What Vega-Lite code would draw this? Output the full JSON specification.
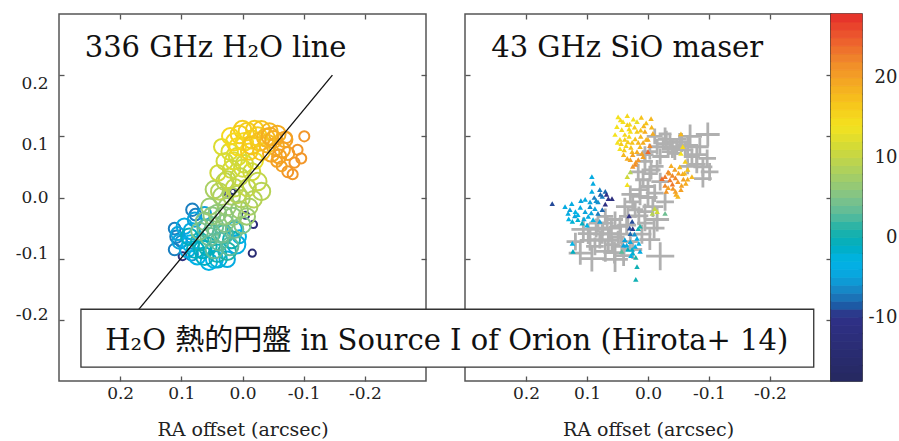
{
  "$schema": "https://vega.github.io/schema/vega-lite/v6.json",
  "background": "white",
  "padding": {"left": 14, "top": 12, "right": 2, "bottom": 0},
  "config": {
    "font": "DejaVu Serif, Noto Sans CJK JP, serif",
    "view": {"stroke": "#555", "strokeWidth": 1.5},
    "axis": {
      "grid": false, "domain": false,
      "tickColor": "#555", "tickWidth": 1.3, "tickSize": -5,
      "labelFont": "DejaVu Serif, serif", "labelFontSize": 17, "labelColor": "#222",
      "titleFont": "DejaVu Serif, serif", "titleFontSize": 19, "titleFontWeight": "normal", "titleColor": "#222"
    },
    "text": {"font": "DejaVu Serif, Noto Sans CJK JP, serif"}
  },
  "datasets": {
    "h2o": [
      {"x": 0.098, "y": -0.096, "v": -12, "flux": 0.18},
      {"x": -0.005, "y": -0.029, "v": -13, "flux": 0.15},
      {"x": -0.018, "y": -0.044, "v": -13, "flux": 0.15},
      {"x": -0.016, "y": -0.091, "v": -14, "flux": 0.15},
      {"x": 0.025, "y": 0.007, "v": -12, "flux": 0.08},
      {"x": 0.016, "y": 0.010, "v": -12, "flux": 0.08},
      {"x": 0.082, "y": -0.020, "v": -7, "flux": 0.45},
      {"x": 0.077, "y": -0.028, "v": -7, "flux": 0.4},
      {"x": 0.111, "y": -0.051, "v": -7, "flux": 0.4},
      {"x": 0.108, "y": -0.064, "v": -7, "flux": 0.45},
      {"x": 0.100, "y": -0.072, "v": -6, "flux": 0.4},
      {"x": 0.111, "y": -0.085, "v": -7, "flux": 0.4},
      {"x": 0.083, "y": -0.093, "v": -6, "flux": 0.45},
      {"x": 0.095, "y": -0.047, "v": -4, "flux": 0.7},
      {"x": 0.083, "y": -0.055, "v": -4, "flux": 0.8},
      {"x": 0.103, "y": -0.072, "v": -5, "flux": 0.6},
      {"x": 0.090, "y": -0.085, "v": -4, "flux": 0.7},
      {"x": 0.074, "y": -0.096, "v": -3, "flux": 0.8},
      {"x": 0.046, "y": -0.101, "v": -3, "flux": 0.85},
      {"x": 0.010, "y": -0.077, "v": -4, "flux": 0.95},
      {"x": 0.013, "y": -0.051, "v": -4, "flux": 0.6},
      {"x": 0.005, "y": -0.064, "v": -3, "flux": 0.5},
      {"x": 0.025, "y": -0.101, "v": -4, "flux": 0.7},
      {"x": 0.078, "y": -0.036, "v": -5, "flux": 0.6},
      {"x": 0.062, "y": -0.026, "v": -5, "flux": 0.5},
      {"x": 0.106, "y": -0.059, "v": -5, "flux": 0.5},
      {"x": 0.055, "y": -0.105, "v": -3, "flux": 0.8},
      {"x": 0.085, "y": -0.075, "v": -3, "flux": 0.8},
      {"x": 0.040, "y": -0.100, "v": -2, "flux": 0.9},
      {"x": 0.070, "y": -0.072, "v": 1, "flux": 0.9},
      {"x": 0.057, "y": -0.080, "v": 0, "flux": 0.95},
      {"x": 0.041, "y": -0.091, "v": 0, "flux": 0.9},
      {"x": 0.025, "y": -0.088, "v": 1, "flux": 0.9},
      {"x": 0.051, "y": -0.059, "v": 1, "flux": 0.9},
      {"x": 0.077, "y": -0.085, "v": -1, "flux": 0.85},
      {"x": 0.062, "y": -0.096, "v": -1, "flux": 0.9},
      {"x": 0.018, "y": -0.069, "v": 0, "flux": 0.85},
      {"x": 0.087, "y": -0.064, "v": -1, "flux": 0.8},
      {"x": 0.065, "y": -0.085, "v": -1, "flux": 0.9},
      {"x": 0.030, "y": -0.060, "v": 2, "flux": 0.95},
      {"x": 0.062, "y": -0.039, "v": 5, "flux": 0.9},
      {"x": 0.046, "y": -0.047, "v": 4, "flux": 0.95},
      {"x": 0.029, "y": -0.042, "v": 5, "flux": 0.9},
      {"x": 0.013, "y": -0.052, "v": 4, "flux": 0.9},
      {"x": 0.054, "y": -0.064, "v": 4, "flux": 0.95},
      {"x": 0.038, "y": -0.072, "v": 3, "flux": 0.95},
      {"x": 0.021, "y": -0.080, "v": 3, "flux": 0.9},
      {"x": 0.046, "y": -0.085, "v": 3, "flux": 0.9},
      {"x": 0.070, "y": -0.055, "v": 5, "flux": 0.85},
      {"x": 0.034, "y": -0.059, "v": 4, "flux": 0.95},
      {"x": 0.060, "y": -0.050, "v": 3, "flux": 0.85},
      {"x": 0.000, "y": -0.045, "v": 5, "flux": 0.8},
      {"x": 0.046, "y": 0.013, "v": 8, "flux": 0.9},
      {"x": 0.034, "y": 0.002, "v": 8, "flux": 0.9},
      {"x": 0.018, "y": 0.002, "v": 8, "flux": 0.85},
      {"x": 0.002, "y": -0.002, "v": 8, "flux": 0.85},
      {"x": 0.025, "y": -0.015, "v": 7, "flux": 0.9},
      {"x": 0.005, "y": -0.020, "v": 7, "flux": 0.85},
      {"x": -0.011, "y": -0.015, "v": 8, "flux": 0.8},
      {"x": 0.041, "y": -0.026, "v": 6, "flux": 0.9},
      {"x": 0.054, "y": -0.015, "v": 7, "flux": 0.8},
      {"x": 0.016, "y": -0.031, "v": 6, "flux": 0.9},
      {"x": -0.007, "y": -0.031, "v": 7, "flux": 0.8},
      {"x": 0.029, "y": 0.026, "v": 9, "flux": 0.85},
      {"x": 0.030, "y": -0.030, "v": 6, "flux": 0.9},
      {"x": 0.050, "y": -0.030, "v": 6, "flux": 0.85},
      {"x": 0.038, "y": 0.010, "v": 9, "flux": 0.8},
      {"x": 0.008, "y": 0.005, "v": 9, "flux": 0.9},
      {"x": -0.018, "y": -0.003, "v": 9, "flux": 0.8},
      {"x": 0.021, "y": 0.075, "v": 12, "flux": 0.8},
      {"x": 0.008, "y": 0.067, "v": 12, "flux": 0.9},
      {"x": 0.029, "y": 0.059, "v": 11, "flux": 0.8},
      {"x": -0.003, "y": 0.055, "v": 11, "flux": 0.9},
      {"x": 0.018, "y": 0.046, "v": 11, "flux": 0.9},
      {"x": -0.015, "y": 0.042, "v": 11, "flux": 0.85},
      {"x": 0.005, "y": 0.034, "v": 10, "flux": 0.9},
      {"x": 0.025, "y": 0.029, "v": 10, "flux": 0.85},
      {"x": -0.025, "y": 0.026, "v": 10, "flux": 0.9},
      {"x": -0.031, "y": 0.010, "v": 9, "flux": 0.9},
      {"x": 0.034, "y": 0.083, "v": 12, "flux": 0.7},
      {"x": -0.008, "y": 0.016, "v": 10, "flux": 0.85},
      {"x": 0.013, "y": 0.016, "v": 10, "flux": 0.9},
      {"x": 0.040, "y": 0.040, "v": 11, "flux": 0.7},
      {"x": 0.000, "y": 0.048, "v": 11, "flux": 0.85},
      {"x": 0.015, "y": 0.060, "v": 12, "flux": 0.85},
      {"x": -0.020, "y": 0.060, "v": 13, "flux": 0.8},
      {"x": 0.005, "y": 0.103, "v": 16, "flux": 0.9},
      {"x": -0.008, "y": 0.108, "v": 16, "flux": 0.9},
      {"x": -0.020, "y": 0.111, "v": 16, "flux": 0.9},
      {"x": -0.031, "y": 0.111, "v": 17, "flux": 0.85},
      {"x": -0.044, "y": 0.108, "v": 18, "flux": 0.8},
      {"x": -0.057, "y": 0.104, "v": 19, "flux": 0.8},
      {"x": -0.069, "y": 0.095, "v": 20, "flux": 0.7},
      {"x": -0.003, "y": 0.091, "v": 15, "flux": 0.9},
      {"x": -0.015, "y": 0.095, "v": 16, "flux": 0.95},
      {"x": -0.028, "y": 0.091, "v": 17, "flux": 0.95},
      {"x": -0.041, "y": 0.088, "v": 18, "flux": 0.9},
      {"x": -0.054, "y": 0.083, "v": 19, "flux": 0.85},
      {"x": -0.065, "y": 0.078, "v": 20, "flux": 0.7},
      {"x": 0.008, "y": 0.083, "v": 15, "flux": 0.85},
      {"x": -0.011, "y": 0.075, "v": 16, "flux": 0.8},
      {"x": -0.031, "y": 0.075, "v": 17, "flux": 0.85},
      {"x": -0.047, "y": 0.072, "v": 19, "flux": 0.8},
      {"x": -0.025, "y": 0.100, "v": 16, "flux": 0.95},
      {"x": -0.038, "y": 0.098, "v": 18, "flux": 0.9},
      {"x": -0.051, "y": 0.095, "v": 19, "flux": 0.85},
      {"x": -0.060, "y": 0.067, "v": 20, "flux": 0.6},
      {"x": -0.074, "y": 0.072, "v": 20, "flux": 0.5},
      {"x": 0.000, "y": 0.111, "v": 16, "flux": 0.9},
      {"x": 0.013, "y": 0.091, "v": 15, "flux": 0.85},
      {"x": 0.020, "y": 0.100, "v": 15, "flux": 0.8},
      {"x": -0.015, "y": 0.085, "v": 17, "flux": 0.9},
      {"x": -0.045, "y": 0.100, "v": 19, "flux": 0.85},
      {"x": -0.101, "y": 0.100, "v": 21, "flux": 0.3},
      {"x": -0.072, "y": 0.098, "v": 20, "flux": 0.35},
      {"x": -0.096, "y": 0.064, "v": 21, "flux": 0.3},
      {"x": -0.085, "y": 0.057, "v": 21, "flux": 0.3},
      {"x": -0.074, "y": 0.042, "v": 21, "flux": 0.35},
      {"x": -0.082, "y": 0.038, "v": 21, "flux": 0.3},
      {"x": -0.056, "y": 0.059, "v": 20, "flux": 0.35},
      {"x": -0.064, "y": 0.051, "v": 20, "flux": 0.3},
      {"x": -0.090, "y": 0.078, "v": 21, "flux": 0.3}
    ],
    "diskAxis": [
      {"x": 0.225, "y": -0.25},
      {"x": -0.147, "y": 0.2}
    ],
    "sioPositions": [
      {"x": 0.111, "y": -0.091, "e": 0.019},
      {"x": 0.092, "y": -0.100, "e": 0.021},
      {"x": 0.070, "y": -0.088, "e": 0.017},
      {"x": 0.054, "y": -0.101, "e": 0.021},
      {"x": 0.043, "y": -0.080, "e": 0.0145},
      {"x": 0.079, "y": -0.069, "e": 0.0145},
      {"x": 0.098, "y": -0.059, "e": 0.017},
      {"x": 0.062, "y": -0.059, "e": 0.013},
      {"x": 0.046, "y": -0.047, "e": 0.0145},
      {"x": 0.082, "y": -0.042, "e": 0.0145},
      {"x": 0.106, "y": -0.052, "e": 0.0195},
      {"x": 0.070, "y": -0.031, "e": 0.013},
      {"x": 0.054, "y": -0.036, "e": 0.013},
      {"x": 0.033, "y": -0.031, "e": 0.0145},
      {"x": 0.021, "y": -0.020, "e": 0.013},
      {"x": 0.029, "y": -0.072, "e": 0.013},
      {"x": 0.059, "y": -0.077, "e": 0.013},
      {"x": 0.087, "y": -0.080, "e": 0.0145},
      {"x": 0.013, "y": 0.002, "e": 0.0145},
      {"x": 0.025, "y": -0.007, "e": 0.013},
      {"x": 0.038, "y": -0.015, "e": 0.0145},
      {"x": 0.005, "y": -0.042, "e": 0.013},
      {"x": 0.119, "y": -0.072, "e": 0.0145},
      {"x": -0.020, "y": -0.096, "e": 0.023},
      {"x": -0.003, "y": -0.069, "e": 0.017},
      {"x": 0.074, "y": -0.052, "e": 0.0105},
      {"x": 0.049, "y": -0.065, "e": 0.0105},
      {"x": 0.067, "y": -0.042, "e": 0.0105},
      {"x": 0.060, "y": -0.050, "e": 0.017},
      {"x": 0.075, "y": -0.060, "e": 0.0155},
      {"x": 0.045, "y": -0.060, "e": 0.0155},
      {"x": 0.065, "y": -0.070, "e": 0.017},
      {"x": 0.035, "y": -0.045, "e": 0.0155},
      {"x": 0.085, "y": -0.050, "e": 0.0155},
      {"x": 0.055, "y": -0.090, "e": 0.018},
      {"x": 0.040, "y": -0.095, "e": 0.017},
      {"x": 0.010, "y": -0.060, "e": 0.0155},
      {"x": 0.015, "y": -0.030, "e": 0.0155},
      {"x": 0.095, "y": -0.070, "e": 0.017},
      {"x": 0.025, "y": -0.085, "e": 0.0155},
      {"x": -0.010, "y": -0.050, "e": 0.017},
      {"x": 0.005, "y": -0.023, "e": 0.013},
      {"x": -0.008, "y": -0.015, "e": 0.017},
      {"x": -0.015, "y": -0.036, "e": 0.0195},
      {"x": 0.013, "y": 0.013, "e": 0.0145},
      {"x": 0.029, "y": 0.005, "e": 0.0145},
      {"x": 0.000, "y": 0.018, "e": 0.013},
      {"x": -0.011, "y": 0.007, "e": 0.0145},
      {"x": 0.008, "y": 0.029, "e": 0.013},
      {"x": -0.003, "y": 0.039, "e": 0.013},
      {"x": -0.020, "y": 0.026, "e": 0.0145},
      {"x": 0.016, "y": 0.042, "e": 0.013},
      {"x": -0.015, "y": 0.051, "e": 0.0105},
      {"x": -0.028, "y": -0.007, "e": 0.0145},
      {"x": 0.000, "y": 0.000, "e": 0.0155},
      {"x": -0.005, "y": 0.045, "e": 0.0155},
      {"x": 0.005, "y": 0.070, "e": 0.014},
      {"x": -0.003, "y": 0.075, "e": 0.013},
      {"x": -0.015, "y": 0.083, "e": 0.013},
      {"x": -0.025, "y": 0.088, "e": 0.0105},
      {"x": -0.036, "y": 0.091, "e": 0.013},
      {"x": -0.047, "y": 0.083, "e": 0.013},
      {"x": -0.020, "y": 0.067, "e": 0.013},
      {"x": -0.033, "y": 0.075, "e": 0.0105},
      {"x": -0.044, "y": 0.072, "e": 0.0105},
      {"x": -0.061, "y": 0.078, "e": 0.013},
      {"x": -0.040, "y": 0.080, "e": 0.0155},
      {"x": -0.055, "y": 0.090, "e": 0.0155},
      {"x": -0.030, "y": 0.095, "e": 0.014},
      {"x": -0.065, "y": 0.085, "e": 0.017},
      {"x": -0.080, "y": 0.070, "e": 0.017},
      {"x": -0.090, "y": 0.050, "e": 0.0155},
      {"x": -0.069, "y": 0.100, "e": 0.0195},
      {"x": -0.098, "y": 0.103, "e": 0.0195},
      {"x": -0.085, "y": 0.083, "e": 0.0145},
      {"x": -0.097, "y": 0.064, "e": 0.0145},
      {"x": -0.080, "y": 0.054, "e": 0.0145},
      {"x": -0.101, "y": 0.042, "e": 0.0145},
      {"x": -0.090, "y": 0.031, "e": 0.0145},
      {"x": -0.072, "y": 0.067, "e": 0.013},
      {"x": -0.011, "y": 0.100, "e": 0.013},
      {"x": -0.028, "y": 0.104, "e": 0.0105},
      {"x": -0.052, "y": 0.095, "e": 0.0105},
      {"x": 0.005, "y": 0.059, "e": 0.013},
      {"x": -0.065, "y": 0.051, "e": 0.013}
    ],
    "sioMasers": [
      {"x": 0.049, "y": 0.132, "v": 14},
      {"x": 0.034, "y": 0.134, "v": 15},
      {"x": 0.011, "y": 0.131, "v": 17},
      {"x": -0.005, "y": 0.129, "v": 18},
      {"x": 0.034, "y": 0.119, "v": 16},
      {"x": 0.043, "y": 0.111, "v": 15},
      {"x": 0.029, "y": 0.108, "v": 14},
      {"x": 0.018, "y": 0.124, "v": 13},
      {"x": 0.007, "y": 0.117, "v": 18},
      {"x": 0.005, "y": 0.108, "v": 19},
      {"x": 0.046, "y": 0.095, "v": 15},
      {"x": 0.033, "y": 0.091, "v": 16},
      {"x": 0.021, "y": 0.096, "v": 17},
      {"x": 0.039, "y": 0.078, "v": 16},
      {"x": 0.026, "y": 0.075, "v": 18},
      {"x": 0.013, "y": 0.083, "v": 18},
      {"x": 0.029, "y": 0.062, "v": 20},
      {"x": 0.016, "y": 0.062, "v": 21},
      {"x": 0.021, "y": 0.054, "v": 22},
      {"x": 0.054, "y": 0.103, "v": 14},
      {"x": 0.038, "y": 0.103, "v": 15},
      {"x": 0.003, "y": 0.095, "v": 18},
      {"x": 0.051, "y": 0.116, "v": 14},
      {"x": 0.026, "y": 0.090, "v": 17},
      {"x": 0.008, "y": 0.067, "v": 20},
      {"x": 0.046, "y": 0.080, "v": 14},
      {"x": 0.034, "y": 0.064, "v": 19},
      {"x": 0.041, "y": 0.124, "v": 14},
      {"x": 0.018, "y": 0.108, "v": 16},
      {"x": 0.031, "y": 0.100, "v": 15},
      {"x": 0.044, "y": 0.088, "v": 16},
      {"x": 0.018, "y": 0.075, "v": 19},
      {"x": 0.008, "y": 0.090, "v": 19},
      {"x": 0.025, "y": 0.070, "v": 20},
      {"x": 0.036, "y": 0.085, "v": 15},
      {"x": -0.006, "y": 0.115, "v": 18},
      {"x": -0.008, "y": 0.105, "v": 19},
      {"x": 0.024, "y": 0.128, "v": 14},
      {"x": 0.045, "y": 0.127, "v": 15},
      {"x": 0.030, "y": 0.120, "v": 15},
      {"x": 0.038, "y": 0.095, "v": 16},
      {"x": 0.022, "y": 0.115, "v": 16},
      {"x": 0.012, "y": 0.100, "v": 18},
      {"x": 0.028, "y": 0.082, "v": 17},
      {"x": 0.016, "y": 0.090, "v": 18},
      {"x": 0.040, "y": 0.070, "v": 18},
      {"x": 0.010, "y": 0.072, "v": 20},
      {"x": 0.000, "y": 0.095, "v": 19},
      {"x": 0.050, "y": 0.090, "v": 14},
      {"x": 0.020, "y": 0.058, "v": 21},
      {"x": 0.031, "y": 0.112, "v": 15},
      {"x": 0.003, "y": 0.122, "v": 17},
      {"x": 0.012, "y": 0.110, "v": 17},
      {"x": -0.003, "y": 0.085, "v": 22},
      {"x": 0.000, "y": 0.075, "v": 24},
      {"x": -0.033, "y": 0.042, "v": 22},
      {"x": -0.044, "y": 0.046, "v": 20},
      {"x": -0.057, "y": 0.039, "v": 19},
      {"x": -0.036, "y": 0.029, "v": 23},
      {"x": -0.049, "y": 0.026, "v": 21},
      {"x": -0.062, "y": 0.023, "v": 19},
      {"x": -0.028, "y": 0.020, "v": 22},
      {"x": -0.041, "y": 0.015, "v": 21},
      {"x": -0.054, "y": 0.013, "v": 20},
      {"x": -0.046, "y": 0.005, "v": 19},
      {"x": -0.065, "y": 0.046, "v": 17},
      {"x": -0.072, "y": 0.034, "v": 18},
      {"x": -0.061, "y": 0.059, "v": 16},
      {"x": -0.049, "y": 0.002, "v": 18},
      {"x": -0.040, "y": 0.036, "v": 22},
      {"x": -0.030, "y": 0.010, "v": 21},
      {"x": -0.058, "y": 0.030, "v": 20},
      {"x": -0.052, "y": 0.050, "v": 18},
      {"x": -0.038, "y": 0.052, "v": 19},
      {"x": -0.035, "y": 0.040, "v": 21},
      {"x": -0.045, "y": 0.032, "v": 22},
      {"x": -0.055, "y": 0.020, "v": 20},
      {"x": -0.040, "y": 0.022, "v": 23},
      {"x": -0.050, "y": 0.040, "v": 20},
      {"x": -0.060, "y": 0.040, "v": 18},
      {"x": -0.033, "y": 0.016, "v": 20},
      {"x": -0.045, "y": 0.010, "v": 20},
      {"x": -0.065, "y": 0.030, "v": 19},
      {"x": -0.028, "y": 0.034, "v": 23},
      {"x": -0.023, "y": 0.031, "v": 24},
      {"x": -0.054, "y": 0.104, "v": 18},
      {"x": -0.057, "y": 0.083, "v": 15},
      {"x": -0.054, "y": 0.072, "v": 14},
      {"x": 0.025, "y": 0.051, "v": 21},
      {"x": 0.029, "y": 0.042, "v": 9},
      {"x": 0.034, "y": 0.034, "v": 11},
      {"x": 0.034, "y": 0.021, "v": 14},
      {"x": -0.011, "y": -0.018, "v": 10},
      {"x": -0.015, "y": -0.023, "v": 11},
      {"x": -0.007, "y": -0.026, "v": 9},
      {"x": -0.028, "y": -0.026, "v": 4},
      {"x": 0.157, "y": -0.010, "v": -9},
      {"x": 0.092, "y": 0.034, "v": -4},
      {"x": 0.090, "y": 0.023, "v": -4},
      {"x": 0.092, "y": 0.010, "v": -4},
      {"x": 0.079, "y": 0.013, "v": -7},
      {"x": 0.070, "y": 0.010, "v": -8},
      {"x": 0.075, "y": 0.002, "v": -7},
      {"x": 0.065, "y": -0.002, "v": -10},
      {"x": 0.059, "y": -0.002, "v": -12},
      {"x": 0.070, "y": -0.011, "v": -11},
      {"x": 0.136, "y": -0.015, "v": -4},
      {"x": 0.128, "y": -0.020, "v": -5},
      {"x": 0.119, "y": -0.023, "v": -3},
      {"x": 0.131, "y": -0.026, "v": -4},
      {"x": 0.111, "y": -0.016, "v": -4},
      {"x": 0.103, "y": -0.023, "v": -5},
      {"x": 0.095, "y": -0.015, "v": -6},
      {"x": 0.087, "y": -0.018, "v": -5},
      {"x": 0.082, "y": -0.026, "v": -7},
      {"x": 0.098, "y": -0.031, "v": -4},
      {"x": 0.115, "y": -0.036, "v": -2},
      {"x": 0.124, "y": -0.039, "v": -2},
      {"x": 0.108, "y": -0.042, "v": -1},
      {"x": 0.090, "y": -0.036, "v": -3},
      {"x": 0.079, "y": -0.039, "v": -5},
      {"x": 0.095, "y": -0.007, "v": -5},
      {"x": 0.082, "y": -0.007, "v": -6},
      {"x": 0.103, "y": -0.003, "v": -4},
      {"x": 0.120, "y": -0.030, "v": -5},
      {"x": 0.100, "y": -0.045, "v": -3},
      {"x": 0.075, "y": -0.020, "v": -8},
      {"x": 0.125, "y": -0.010, "v": -4},
      {"x": 0.115, "y": -0.028, "v": -3},
      {"x": 0.105, "y": -0.035, "v": -4},
      {"x": 0.093, "y": -0.025, "v": -5},
      {"x": 0.085, "y": -0.005, "v": -6},
      {"x": 0.078, "y": 0.005, "v": -8},
      {"x": 0.110, "y": -0.005, "v": -5},
      {"x": 0.130, "y": -0.035, "v": -3},
      {"x": 0.088, "y": 0.000, "v": -7},
      {"x": 0.068, "y": 0.005, "v": -10},
      {"x": 0.124, "y": -0.075, "v": -3},
      {"x": 0.123, "y": -0.088, "v": -1},
      {"x": 0.026, "y": -0.039, "v": -9},
      {"x": 0.025, "y": -0.051, "v": -11},
      {"x": 0.029, "y": -0.059, "v": -8},
      {"x": 0.031, "y": -0.030, "v": -10},
      {"x": 0.030, "y": -0.050, "v": -9},
      {"x": 0.016, "y": -0.051, "v": 0},
      {"x": 0.013, "y": -0.047, "v": 1},
      {"x": 0.038, "y": -0.069, "v": -5},
      {"x": 0.029, "y": -0.072, "v": -4},
      {"x": 0.018, "y": -0.067, "v": -4},
      {"x": 0.022, "y": -0.060, "v": -6},
      {"x": 0.021, "y": -0.080, "v": -3},
      {"x": 0.015, "y": -0.075, "v": -3},
      {"x": 0.033, "y": -0.085, "v": -1},
      {"x": 0.035, "y": -0.078, "v": -4},
      {"x": 0.026, "y": -0.085, "v": -2},
      {"x": 0.025, "y": -0.091, "v": -2},
      {"x": 0.013, "y": -0.088, "v": -4},
      {"x": 0.040, "y": -0.078, "v": -5},
      {"x": 0.028, "y": -0.095, "v": -3},
      {"x": 0.043, "y": -0.088, "v": 3},
      {"x": 0.020, "y": -0.098, "v": 1},
      {"x": 0.018, "y": -0.113, "v": 0},
      {"x": 0.020, "y": -0.134, "v": 0}
    ],
    "velocityScale": [
      {"lo": -18, "hi": -17, "v": -17.5}, {"lo": -17, "hi": -16, "v": -16.5},
      {"lo": -16, "hi": -15, "v": -15.5}, {"lo": -15, "hi": -14, "v": -14.5},
      {"lo": -14, "hi": -13, "v": -13.5}, {"lo": -13, "hi": -12, "v": -12.5},
      {"lo": -12, "hi": -11, "v": -11.5}, {"lo": -11, "hi": -10, "v": -10.5},
      {"lo": -10, "hi": -9, "v": -9.5}, {"lo": -9, "hi": -8, "v": -8.5},
      {"lo": -8, "hi": -7, "v": -7.5}, {"lo": -7, "hi": -6, "v": -6.5},
      {"lo": -6, "hi": -5, "v": -5.5}, {"lo": -5, "hi": -4, "v": -4.5},
      {"lo": -4, "hi": -3, "v": -3.5}, {"lo": -3, "hi": -2, "v": -2.5},
      {"lo": -2, "hi": -1, "v": -1.5}, {"lo": -1, "hi": 0, "v": -0.5},
      {"lo": 0, "hi": 1, "v": 0.5}, {"lo": 1, "hi": 2, "v": 1.5},
      {"lo": 2, "hi": 3, "v": 2.5}, {"lo": 3, "hi": 4, "v": 3.5},
      {"lo": 4, "hi": 5, "v": 4.5}, {"lo": 5, "hi": 6, "v": 5.5},
      {"lo": 6, "hi": 7, "v": 6.5}, {"lo": 7, "hi": 8, "v": 7.5},
      {"lo": 8, "hi": 9, "v": 8.5}, {"lo": 9, "hi": 10, "v": 9.5},
      {"lo": 10, "hi": 11, "v": 10.5}, {"lo": 11, "hi": 12, "v": 11.5},
      {"lo": 12, "hi": 13, "v": 12.5}, {"lo": 13, "hi": 14, "v": 13.5},
      {"lo": 14, "hi": 15, "v": 14.5}, {"lo": 15, "hi": 16, "v": 15.5},
      {"lo": 16, "hi": 17, "v": 16.5}, {"lo": 17, "hi": 18, "v": 17.5},
      {"lo": 18, "hi": 19, "v": 18.5}, {"lo": 19, "hi": 20, "v": 19.5},
      {"lo": 20, "hi": 21, "v": 20.5}, {"lo": 21, "hi": 22, "v": 21.5},
      {"lo": 22, "hi": 23, "v": 22.5}, {"lo": 23, "hi": 24, "v": 23.5},
      {"lo": 24, "hi": 25, "v": 24.5}, {"lo": 25, "hi": 26, "v": 25.5},
      {"lo": 26, "hi": 27, "v": 26.5}, {"lo": 27, "hi": 28, "v": 27.5}
    ]
  },
  "spacing": 39,
  "bounds": "flush",
  "resolve": {"scale": {"x": "independent", "y": "independent", "size": "independent"}},
  "hconcat": [
    {
      "width": 367,
      "height": 367,
      "resolve": {"axis": {"x": "independent", "y": "independent"}},
      "layer": [
        {
          "data": {"name": "h2o"},
          "mark": {"type": "point", "filled": false, "strokeWidth": 2, "opacity": 1},
          "encoding": {
            "x": {"field": "x", "type": "quantitative",
                  "scale": {"domain": [0.3, -0.3], "nice": false, "zero": false},
                  "axis": {"values": [-0.2, -0.1, 0, 0.1, 0.2], "format": ".1f",
                           "labelExpr": "replace(datum.label, '−', '-')",
                           "labelPadding": 9, "labelFlush": false,
                           "title": "RA offset (arcsec)", "titlePadding": 19}},
            "y": {"field": "y", "type": "quantitative",
                  "scale": {"domain": [-0.3, 0.3], "nice": false, "zero": false},
                  "axis": {"values": [-0.2, -0.1, 0, 0.1, 0.2], "format": ".1f",
                           "labelExpr": "replace(datum.label, '−', '-')",
                           "labelPadding": 16, "labelFlush": false,
                           "labelBaseline": {"condition": [
                             {"test": "datum.value > 0.05", "value": "top"},
                             {"test": "datum.value > -0.05", "value": "middle"}
                           ], "value": "alphabetic"},
                           "title": null}},
            "color": {"field": "v", "type": "quantitative", "legend": null,
                      "scale": {"domain": [-18, -10, -9.5, -8.5, -7, -5, -3, -1, 1, 3, 5, 8, 11, 14, 17, 20, 22, 25, 28],
                                "range": ["#25285f", "#2f3188", "#2b3a8c", "#1d5aa5", "#1a7fc0", "#0aa3dc", "#00b3e6", "#00aec0", "#1fb2a8", "#5cbb9b", "#80c388", "#a9cf62", "#cfd93a", "#f4e21e", "#f6c31c", "#f4a124", "#f08a2b", "#ec5a2d", "#e52d2a"],
                                "interpolate": "rgb"}},
            "size": {"field": "flux", "type": "quantitative", "legend": null,
                     "scale": {"domain": [0, 1], "range": [0, 340]}}
          }
        },
        {
          "data": {"name": "diskAxis"},
          "mark": {"type": "line", "color": "#111", "strokeWidth": 1.3},
          "encoding": {
            "x": {"field": "x", "type": "quantitative",
                  "axis": {"orient": "top", "values": [-0.2, -0.1, 0, 0.1, 0.2], "labels": false, "title": null}},
            "y": {"field": "y", "type": "quantitative",
                  "axis": {"orient": "right", "values": [-0.2, -0.1, 0, 0.1, 0.2], "labels": false, "title": null}}
          }
        },
        {
          "data": {"values": [{"label": "336 GHz H₂O line"}]},
          "mark": {"type": "text", "align": "left", "baseline": "alphabetic", "fontSize": 29, "color": "#111"},
          "encoding": {
            "x": {"datum": 0.258, "type": "quantitative", "axis": null},
            "y": {"datum": 0.23, "type": "quantitative", "axis": null},
            "text": {"field": "label"}
          }
        }
      ]
    },
    {
      "spacing": 0,
      "bounds": "flush",
      "resolve": {"scale": {"x": "independent", "y": "independent", "size": "independent"}},
      "hconcat": [
        {
          "width": 366,
          "height": 367,
          "resolve": {"axis": {"x": "independent", "y": "independent"}},
          "layer": [
            {
              "data": {"name": "sioPositions"},
              "mark": {"type": "point", "shape": "M-1,0H1M0,-1V1", "filled": false, "strokeWidth": 2.8, "color": "#b0b0b0", "opacity": 1},
              "encoding": {
                "x": {"field": "x", "type": "quantitative",
                      "scale": {"domain": [0.3, -0.3], "nice": false, "zero": false},
                      "axis": {"values": [-0.2, -0.1, 0, 0.1, 0.2], "format": ".1f",
                               "labelExpr": "replace(datum.label, '−', '-')",
                               "labelPadding": 9, "labelFlush": false,
                               "title": "RA offset (arcsec)", "titlePadding": 19}},
                "y": {"field": "y", "type": "quantitative",
                      "scale": {"domain": [-0.3, 0.3], "nice": false, "zero": false},
                      "axis": {"values": [-0.2, -0.1, 0, 0.1, 0.2], "labels": false, "title": null}},
                "size": {"field": "e", "type": "quantitative", "legend": null,
                         "scale": {"type": "pow", "exponent": 2, "domain": [0, 0.03], "range": [0, 1344]}}
              }
            },
            {
              "data": {"name": "sioMasers"},
              "mark": {"type": "point", "shape": "triangle-up", "filled": true, "size": 30, "opacity": 1},
              "encoding": {
                "x": {"field": "x", "type": "quantitative",
                      "axis": {"orient": "top", "values": [-0.2, -0.1, 0, 0.1, 0.2], "labels": false, "title": null}},
                "y": {"field": "y", "type": "quantitative",
                      "axis": {"orient": "right", "values": [-0.2, -0.1, 0, 0.1, 0.2], "labels": false, "title": null}},
                "color": {"field": "v", "type": "quantitative", "legend": null,
                          "scale": {"domain": [-18, -10, -9.5, -8.5, -7, -5, -3, -1, 1, 3, 5, 8, 11, 14, 17, 20, 22, 25, 28],
                                    "range": ["#25285f", "#2f3188", "#2b3a8c", "#1d5aa5", "#1a7fc0", "#0aa3dc", "#00b3e6", "#00aec0", "#1fb2a8", "#5cbb9b", "#80c388", "#a9cf62", "#cfd93a", "#f4e21e", "#f6c31c", "#f4a124", "#f08a2b", "#ec5a2d", "#e52d2a"],
                                    "interpolate": "rgb"}}
              }
            },
            {
              "data": {"values": [{"label": "43 GHz SiO maser"}]},
              "mark": {"type": "text", "align": "left", "baseline": "alphabetic", "fontSize": 29, "color": "#111"},
              "encoding": {
                "x": {"datum": 0.257, "type": "quantitative", "axis": null},
                "y": {"datum": 0.23, "type": "quantitative", "axis": null},
                "text": {"field": "label"}
              }
            },
            {
              "data": {"values": [{"caption": "H₂O 熱的円盤 in Source I of Orion (Hirota+ 14)"}]},
              "layer": [
                {
                  "mark": {"type": "rect", "fill": "white", "stroke": "#333", "strokeWidth": 1.3, "clip": false},
                  "encoding": {
                    "x": {"datum": 0.9296, "type": "quantitative", "axis": null},
                    "x2": {"datum": -0.2717},
                    "y": {"datum": -0.1827, "type": "quantitative", "axis": null},
                    "y2": {"datum": -0.2773}
                  }
                },
                {
                  "mark": {"type": "text", "align": "center", "baseline": "alphabetic", "fontSize": 29, "color": "#111", "clip": false},
                  "encoding": {
                    "x": {"datum": 0.3298, "type": "quantitative", "axis": null},
                    "y": {"datum": -0.2496, "type": "quantitative", "axis": null},
                    "text": {"field": "caption"}
                  }
                }
              ]
            }
          ]
        },
        {
          "width": 31,
          "height": 367,
          "view": {"stroke": "#222", "strokeWidth": 1.5},
          "data": {"name": "velocityScale"},
          "mark": {"type": "rect", "strokeWidth": 0.8},
          "encoding": {
            "x": {"datum": 0, "type": "quantitative", "scale": {"domain": [0, 1], "nice": false}, "axis": null},
            "x2": {"datum": 1},
            "y": {"field": "lo", "type": "quantitative",
                  "scale": {"domain": [-18, 28], "nice": false, "zero": false},
                  "axis": {"orient": "right",
                           "values": [-16, -14, -12, -10, -8, -6, -4, -2, 0, 2, 4, 6, 8, 10, 12, 14, 16, 18, 20, 22, 24, 26],
                           "tickSize": -4, "tickColor": "#333", "labelPadding": 39, "labelAlign": "right", "labelFontSize": 18,
                           "labelExpr": "datum.value % 10 === 0 ? replace(datum.label, '−', '-') : ''",
                           "title": null}},
            "y2": {"field": "hi"},
            "color": {"field": "v", "type": "quantitative", "legend": null,
                      "scale": {"domain": [-18, -10, -9.5, -8.5, -7, -5, -3, -1, 1, 3, 5, 8, 11, 14, 17, 20, 22, 25, 28],
                                "range": ["#25285f", "#2f3188", "#2b3a8c", "#1d5aa5", "#1a7fc0", "#0aa3dc", "#00b3e6", "#00aec0", "#1fb2a8", "#5cbb9b", "#80c388", "#a9cf62", "#cfd93a", "#f4e21e", "#f6c31c", "#f4a124", "#f08a2b", "#ec5a2d", "#e52d2a"],
                                "interpolate": "rgb"}},
            "stroke": {"field": "v", "type": "quantitative", "legend": null,
                       "scale": {"domain": [-18, -10, -9.5, -8.5, -7, -5, -3, -1, 1, 3, 5, 8, 11, 14, 17, 20, 22, 25, 28],
                                 "range": ["#25285f", "#2f3188", "#2b3a8c", "#1d5aa5", "#1a7fc0", "#0aa3dc", "#00b3e6", "#00aec0", "#1fb2a8", "#5cbb9b", "#80c388", "#a9cf62", "#cfd93a", "#f4e21e", "#f6c31c", "#f4a124", "#f08a2b", "#ec5a2d", "#e52d2a"],
                                 "interpolate": "rgb"}}
          }
        }
      ]
    }
  ]
}
